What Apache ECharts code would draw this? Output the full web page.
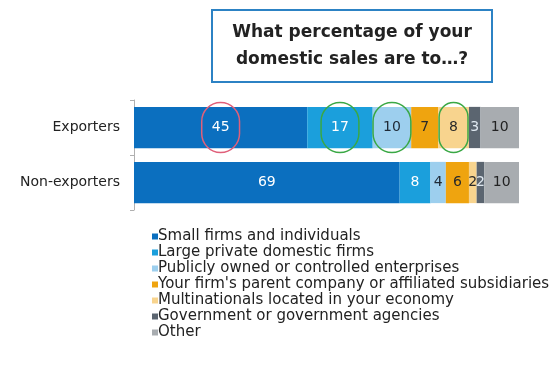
<!DOCTYPE html>
<html><head><meta charset="utf-8">
<script src="https://cdn.jsdelivr.net/npm/echarts@6/dist/echarts.min.js"></script>
<style>html,body{margin:0;padding:0;background:#fff}#c{width:550px;height:368px}</style>
</head><body><div id="c"></div>
<script>
const categories = ['Exporters', 'Non-exporters'];
const seriesNames = [
  'Small firms and individuals',
  'Large private domestic firms',
  'Publicly owned or controlled enterprises',
  "Your firm's parent company or affiliated subsidiaries",
  'Multinationals located in your economy',
  'Government or government agencies',
  'Other'
];
const smallFirms = [45, 69];
const largePrivate = [17, 8];
const publicOwned = [10, 4];
const parentCompany = [7, 6];
const multinationals = [8, 2];
const government = [3, 2];
const other = [10, 10];
const values = [smallFirms, largePrivate, publicOwned, parentCompany, multinationals, government, other];

const colors = ['#0b6fbf', '#1b9fdc', '#9dcfee', '#efa40f', '#f8d48e', '#5b6570', '#a8acb0'];
const labelColors = ['#ffffff', '#ffffff', '#1f2a36', '#2a2a2a', '#2a2a2a', '#dfe8f0', '#222222'];
// annotation ellipses on the Exporters row: series index -> colour
const circled = {0: '#e0607a', 1: '#3aa845', 2: '#3aa845', 4: '#3aa845'};

const chart = echarts.init(document.getElementById('c'));
const series = seriesNames.map((name, i) => ({
  name, type: 'bar', stack: 'total', barWidth: '75%',
  itemStyle: {color: colors[i]},
  label: {show: true, position: 'inside', color: labelColors[i], fontSize: 14, fontFamily: 'DejaVu Sans'},
  data: values[i].map((v, j) => {
    if (j === 0 && circled[i]) {
      return {value: v, label: {borderColor: circled[i], borderWidth: 1.5, borderRadius: 24, padding: [18, 10]}};
    }
    return v;
  })
}));

chart.setOption({
  animation: false,
  title: {
    text: 'What percentage of your\ndomestic sales are to…?',
    left: 332, top: 10, textAlign: 'center',
    backgroundColor: '#fff', borderColor: '#2c82c4', borderWidth: 2,
    padding: [9, 20],
    textStyle: {fontSize: 17, fontWeight: 'bold', color: '#222', fontFamily: 'DejaVu Sans', lineHeight: 27}
  },
  legend: {
    orient: 'vertical', left: 147, top: 224, icon: 'rect', itemWidth: 6, itemHeight: 6, itemGap: 1,
    textStyle: {fontSize: 15, color: '#222', fontFamily: 'DejaVu Sans', lineHeight: 14, padding: [0,0,0,-5]},
    data: seriesNames
  },
  grid: {left: 134, right: 31, top: 100, height: 110, containLabel: false},
  xAxis: {type: 'value', min: 0, max: 100, show: false},
  yAxis: {
    type: 'category', data: categories, inverse: true,
    axisLine: {show: true, lineStyle: {color: '#b0b0b0'}},
    axisTick: {show: true, length: 4, lineStyle: {color: '#b0b0b0'}},
    axisLabel: {fontSize: 14, color: '#222', fontFamily: 'DejaVu Sans', margin: 14}
  },
  series
});
</script></body></html>
